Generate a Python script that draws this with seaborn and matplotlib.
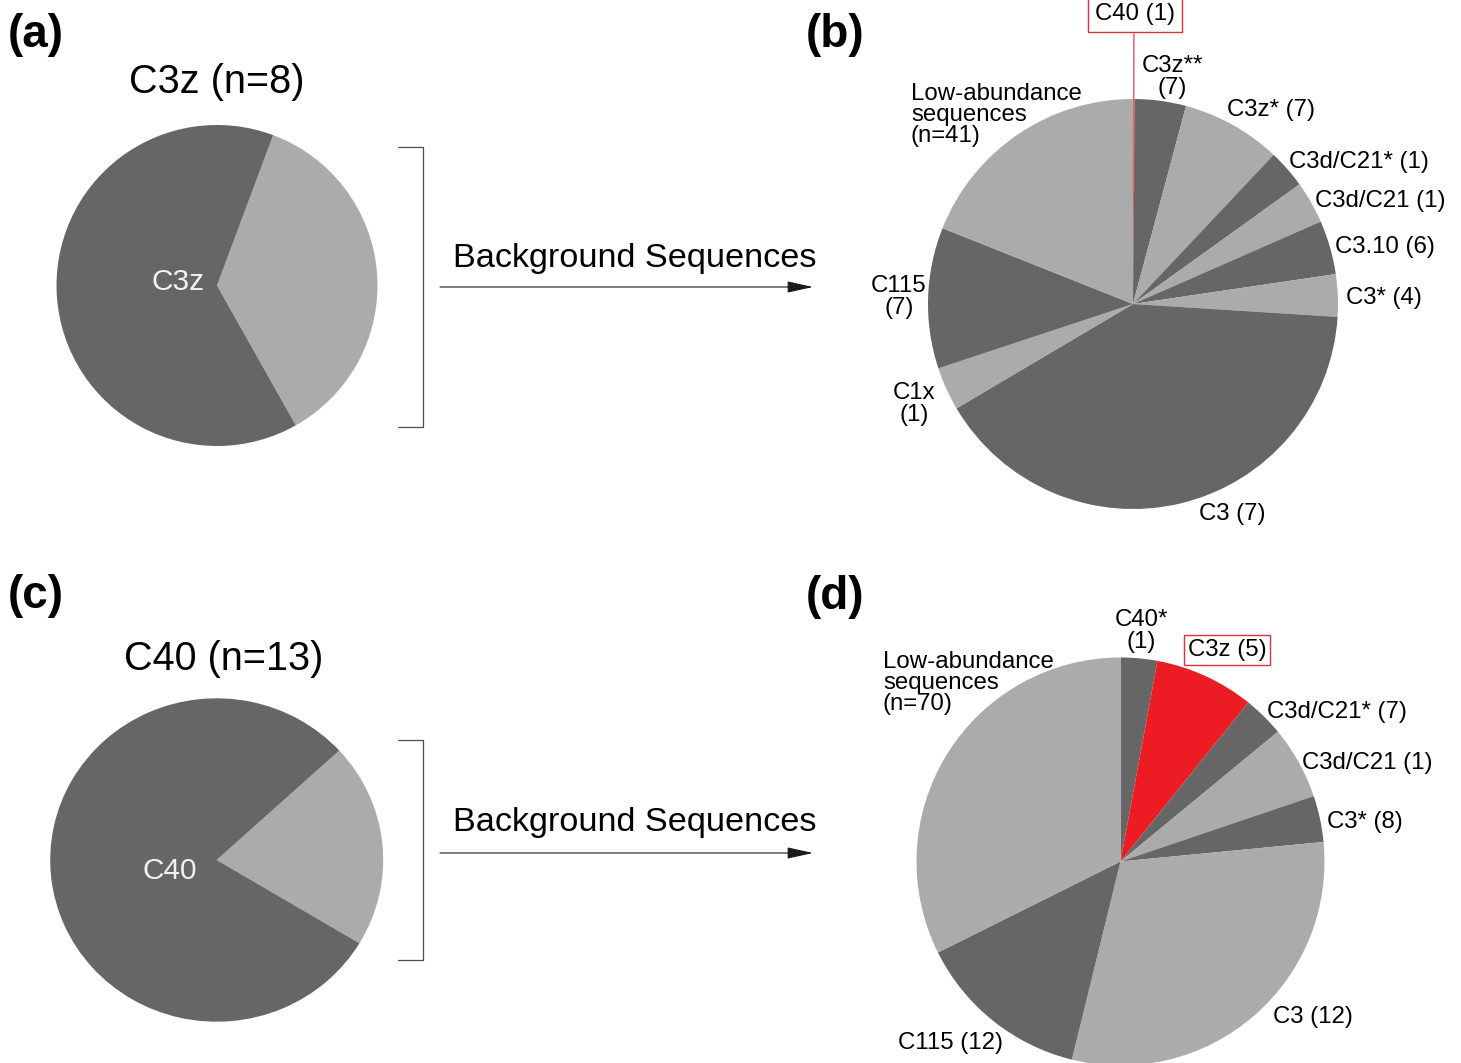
import numpy as np
import matplotlib
matplotlib.use("Agg")
import matplotlib.pyplot as plt
import seaborn as sns

# data: wedge spans in degrees (clockwise from the top)
a_parts = ["background", "C3z"]
a_deg = [130.1, 229.9]
a_start = 69.5

c_parts = ["background", "C40"]
c_deg = [73.6, 286.4]
c_start = 42.6

b_labels = ["C40 (1)", "C3z**\n(7)", "C3z* (7)", "C3d/C21* (1)", "C3d/C21 (1)",
            "C3.10 (6)", "C3* (4)", "C3 (7)", "C1x\n(1)", "C115\n(7)",
            "Low-abundance\nsequences\n(n=41)"]
b_deg = [0.4, 14.6, 28.3, 11.0, 12.0, 15.3, 12.0, 145.8, 12.3, 40.0, 68.3]
b_kind = ["red", "dark", "light", "dark", "light", "dark", "light", "dark",
          "light", "dark", "light"]

d_labels = ["C40*\n(1)", "C3z (5)", "C3d/C21* (7)", "C3d/C21 (1)", "C3* (8)",
            "C3 (12)", "C115 (12)", "Low-abundance\nsequences\n(n=70)"]
d_deg = [10.45, 28.35, 11.7, 20.8, 13.2, 109.3, 49.7, 116.5]
d_kind = ["dark", "red", "dark", "light", "dark", "light", "dark", "light"]

sns.set_theme(style="white")
plt.rcParams["font.family"] = ["Liberation Sans", "DejaVu Sans"]
plt.rcParams["text.color"] = "black"

palette = {"dark": "#666666", "light": "#aaabaa", "red": "#ed1c24"}

W, H = 1461, 1063
fig = plt.figure(figsize=(W / 100, H / 100), dpi=100)


def pie_axes(cx, cy, rx, ry):
    return fig.add_axes([(cx - rx) / W, 1 - (cy + ry) / H, 2 * rx / W, 2 * ry / H])


def draw_pie(ax, values, kinds, start):
    wedges, _ = ax.pie(values, colors=[palette[k] for k in kinds], startangle=start,
                       counterclock=False, radius=1, wedgeprops=dict(linewidth=0))
    ax.set_xlim(-1, 1)
    ax.set_ylim(-1, 1)
    ax.set_aspect("auto")
    return wedges


ax_a = pie_axes(217, 285.5, 160.5, 160.5)
draw_pie(ax_a, a_deg, ["light", "dark"], a_start)

ax_c = pie_axes(216.7, 860, 166.5, 161.7)
draw_pie(ax_c, c_deg, ["light", "dark"], c_start)

ax_b = pie_axes(1133, 304, 205, 205)
wb = draw_pie(ax_b, b_deg, b_kind, 90)

ax_d = pie_axes(1120.5, 861.5, 204, 204)
wd = draw_pie(ax_d, d_deg, d_kind, 90)

# red leader line from the tiny C40 wedge in (b)
th = np.deg2rad((wb[0].theta1 + wb[0].theta2) / 2)
ax_b.plot([0.54 * np.cos(th), 1.32 * np.cos(th)], [0.54 * np.sin(th), 1.32 * np.sin(th)],
          color="#e8646b", lw=1.1, clip_on=False, solid_capstyle="butt")

# overlay in pixel coordinates for text and annotations
ov = fig.add_axes([0, 0, 1, 1])
ov.set_xlim(0, W)
ov.set_ylim(H, 0)
ov.axis("off")

for lab, x, y in [("(a)", 8, 35), ("(b)", 806, 35), ("(c)", 8, 596), ("(d)", 806, 597)]:
    ov.text(x, y, lab, fontsize=33, fontweight="bold", ha="left", va="center")

ov.text(217, 82, "C3z (n=8)", fontsize=28.5, ha="center", va="center")
ov.text(224, 659, "C40 (n=13)", fontsize=28.5, ha="center", va="center")
ov.text(178, 282, "C3z", fontsize=21.5, ha="center", va="center", color="#f2f2f2")
ov.text(170, 871, "C40", fontsize=21.5, ha="center", va="center", color="#f2f2f2")

for top, bot, ya, yt in [(147, 427, 287, 258), (740, 960, 853, 822)]:
    ov.plot([398, 423, 423, 398], [top, top, bot, bot], color="#4d4d4d", lw=0.9)
    ov.annotate("", xy=(813, ya), xytext=(440, ya),
                arrowprops=dict(arrowstyle="-|>,head_length=1.0,head_width=0.22",
                                mutation_scale=16, color="#1a1a1a", lw=0.8,
                                shrinkA=0, shrinkB=0))
    ov.text(453, yt, "Background Sequences", fontsize=24.7, ha="left", va="center")

lab_fs = 17.3
ls = 0.97

# labels for (b)
b_pos = [(1135, 14, "center"), (1172, 77, "center"), (1227, 110, "left"),
         (1289, 162, "left"), (1315, 201, "left"), (1335, 247, "left"),
         (1346, 298, "left"), (1199, 514, "left"), (914, 404, "center"),
         (899, 297, "center"), (911, 115, "left")]
for lab, kind, (x, y, ha) in zip(b_labels, b_kind, b_pos):
    box = None
    if kind == "red":
        box = dict(boxstyle="square,pad=0.28", fc="white", ec="#e0323a", lw=1.0)
    ov.text(x, y, lab, fontsize=lab_fs, ha=ha, va="center", linespacing=ls,
            multialignment=ha, bbox=box)

# labels for (d)
d_pos = [(1141, 631, "center"), (1188, 650, "left"), (1267, 712, "left"),
         (1302, 763, "left"), (1327, 822, "left"), (1273, 1017, "left"),
         (898, 1043, "left"), (883, 683, "left")]
for lab, kind, (x, y, ha) in zip(d_labels, d_kind, d_pos):
    box = None
    if kind == "red":
        box = dict(boxstyle="square,pad=0.15", fc="white", ec="#e0323a", lw=1.0)
    ov.text(x, y, lab, fontsize=lab_fs, ha=ha, va="center", linespacing=ls,
            multialignment=ha, bbox=box)

fig.savefig("out.png", dpi=100)
plt.close(fig)
